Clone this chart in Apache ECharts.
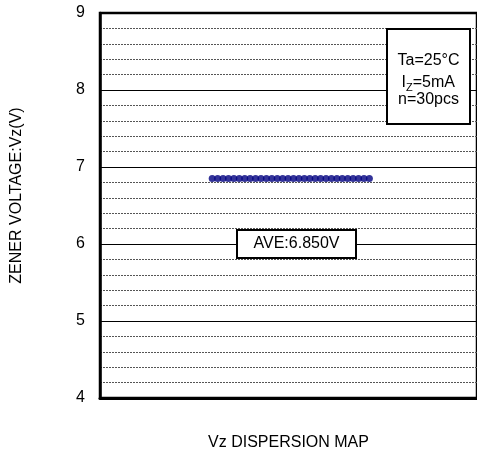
<!DOCTYPE html>
<html>
<head>
<meta charset="utf-8">
<script src="https://cdn.jsdelivr.net/npm/echarts@6/dist/echarts.min.js"></script>
<style>
html,body{margin:0;padding:0;background:#fff;}
#c{width:477px;height:457px;}
</style>
</head>
<body>
<div id="c"></div>
<script>
// ---- data ----
var sampleIndex = [1,2,3,4,5,6,7,8,9,10,11,12,13,14,15,16,17,18,19,20,21,22,23,24,25,26,27,28,29,30];
var zenerVoltage = [6.85,6.85,6.85,6.85,6.85,6.85,6.85,6.85,6.85,6.85,6.85,6.85,6.85,6.85,6.85,6.85,6.85,6.85,6.85,6.85,6.85,6.85,6.85,6.85,6.85,6.85,6.85,6.85,6.85,6.85];
var yTicks = [4,5,6,7,8,9];
var averageLabel = 'AVE:6.850V';
var conditionLines = ['Ta=25°C', 'I', 'Z', '=5mA', 'n=30pcs'];
var yAxisTitle = 'ZENER VOLTAGE:Vz(V)';
var xAxisTitle = 'Vz DISPERSION MAP';

var FONT = "'Liberation Sans', Arial, sans-serif";
var points = sampleIndex.map(function (x, i) { return [x, zenerVoltage[i]]; });

var chart = echarts.init(document.getElementById('c'), null, {renderer: 'canvas'});
chart.setOption({
  animation: false,
  backgroundColor: '#fff',
  grid: {
    left: 100, top: 13, right: -3, bottom: 59,
    show: true, borderColor: '#000', borderWidth: 2.5, backgroundColor: 'transparent'
  },
  xAxis: {
    type: 'value', min: -19.7, max: 49.85,
    axisLine: {show: true, onZero: false, lineStyle: {color: '#000', width: 3}},
    axisTick: {show: false}, axisLabel: {show: false}, splitLine: {show: false},
    name: xAxisTitle, nameLocation: 'middle', nameGap: 37,
    nameTextStyle: {fontFamily: FONT, fontSize: 16, color: '#000'}
  },
  yAxis: {
    type: 'value', min: yTicks[0], max: yTicks[yTicks.length - 1], interval: 1,
    axisLine: {show: true, onZero: false, lineStyle: {color: '#000', width: 2.5}},
    axisTick: {show: false},
    axisLabel: {margin: 15, fontFamily: FONT, fontSize: 16, color: '#000'},
    splitLine: {show: true, lineStyle: {color: '#000', width: 1, type: 'solid'}},
    minorTick: {show: false, splitNumber: 5},
    minorSplitLine: {show: true, lineStyle: {color: '#555', width: 1, type: [2, 1]}},
    name: yAxisTitle, nameLocation: 'middle', nameGap: 75, nameRotate: 90,
    nameTextStyle: {fontFamily: FONT, fontSize: 16, color: '#000', padding: [0, 0, 0, 20]}
  },
  series: [{
    type: 'scatter',
    data: points,
    symbol: 'circle',
    symbolSize: 7,
    itemStyle: {color: '#000080'},
    z: 5
  }],
  graphic: [
    {type: 'rect', shape: {x: 237, y: 230, width: 119, height: 28}, z: 100,
     style: {fill: '#fff', stroke: '#000', lineWidth: 2}},
    {type: 'text', x: 296.5, y: 244, z: 101,
     style: {text: averageLabel, font: '16px ' + FONT, fill: '#000', textAlign: 'center', textVerticalAlign: 'middle'}},
    {type: 'rect', shape: {x: 387, y: 29, width: 83, height: 95}, z: 100,
     style: {fill: '#fff', stroke: '#000', lineWidth: 2}},
    {type: 'text', x: 428.5, y: 61, z: 101,
     style: {text: conditionLines[0], font: '16px ' + FONT, fill: '#000', textAlign: 'center', textVerticalAlign: 'middle'}},
    {type: 'text', x: 401.5, y: 83, z: 101,
     style: {text: conditionLines[1], font: '16px ' + FONT, fill: '#000', textAlign: 'left', textVerticalAlign: 'middle'}},
    {type: 'text', x: 406, y: 87.5, z: 101,
     style: {text: conditionLines[2], font: '11px ' + FONT, fill: '#000', textAlign: 'left', textVerticalAlign: 'middle'}},
    {type: 'text', x: 412.7, y: 83, z: 101,
     style: {text: conditionLines[3], font: '16px ' + FONT, fill: '#000', textAlign: 'left', textVerticalAlign: 'middle'}},
    {type: 'text', x: 428.5, y: 100, z: 101,
     style: {text: conditionLines[4], font: '16px ' + FONT, fill: '#000', textAlign: 'center', textVerticalAlign: 'middle'}}
  ]
});
</script>
</body>
</html>
